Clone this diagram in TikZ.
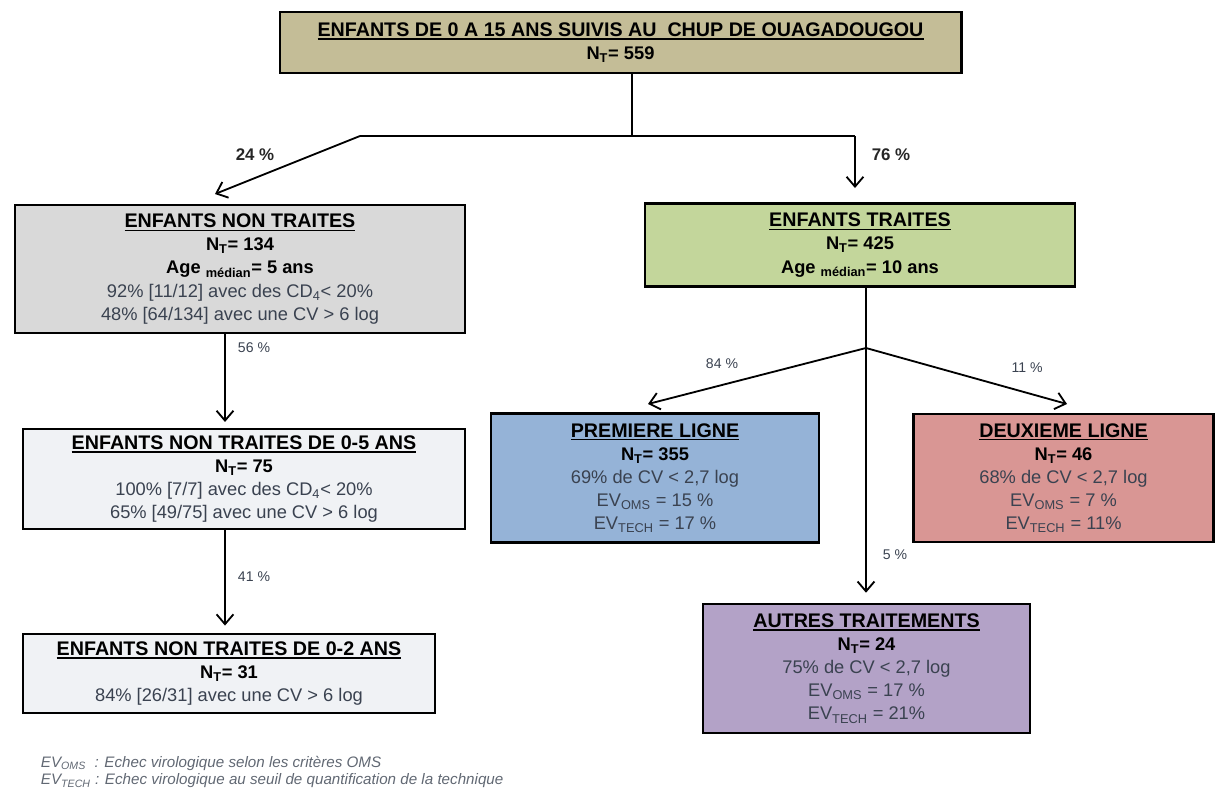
\documentclass[tikz,border=0pt]{standalone}
\usepackage{fontspec}
\setmainfont{Liberation Sans}
\usetikzlibrary{arrows.meta}

\definecolor{txtgris}{RGB}{58,66,80}
\definecolor{fondtan}{RGB}{196,189,151}
\definecolor{fondgris}{RGB}{217,217,217}
\definecolor{fondclair}{RGB}{240,242,245}
\definecolor{fondvert}{RGB}{195,214,155}
\definecolor{fondbleu}{RGB}{149,179,215}
\definecolor{fondrouge}{RGB}{217,150,148}
\definecolor{fondviolet}{RGB}{179,162,199}

\newcommand{\titre}[1]{{\color{black}\bfseries\fontsize{14}{16.4}\selectfont
  \setbox0=\hbox{#1}\rlap{\rule[-2.3pt]{\wd0}{1.1pt}}\box0}}
\newcommand{\ntot}[1]{{\color{black}\bfseries N\textsubscript{T}= #1}}
\newcommand{\agemed}[1]{{\color{black}\bfseries Age \textsubscript{médian}= #1 ans}}

\tikzset{
  boite/.style={draw=black, line width=2pt, align=center, inner sep=0pt,
    text=txtgris, font=\fontsize{13}{16.4}\selectfont},
  lien/.style={line width=1.3pt, -{Straight Barb[length=7pt,width=12pt]}},
  trait/.style={line width=1.3pt},
  pctfort/.style={font=\bfseries\fontsize{12}{14}\selectfont, text=black!85},
  pct/.style={font=\fontsize{10}{12}\selectfont, text=txtgris},
  legende/.style={anchor=west, font=\itshape\fontsize{10.8}{12}\selectfont, text=txtgris!80},
}

\begin{document}
\begin{tikzpicture}[x=0.025cm,y=-0.025cm]
\useasboundingbox (0,0) rectangle (1216,791);

% boites
\node[boite, fill=fondtan, minimum width=17.025cm, minimum height=1.525cm] (racine) at (620.5,42.5)
  {\titre{ENFANTS DE 0 A 15 ANS SUIVIS AU \ CHUP DE OUAGADOUGOU}\\ \ntot{559}};

\node[boite, fill=fondgris, minimum width=11.25cm, minimum height=3.2cm] (nontraites) at (240,269)
  {\titre{ENFANTS NON TRAITES}\\ \ntot{134}\\ \agemed{5}\\
   92\% [11/12] avec des CD\textsubscript{4}< 20\%\\ 48\% [64/134] avec une CV > 6 log};

\node[boite, fill=fondvert, minimum width=10.75cm, minimum height=2.075cm] (traites) at (860,245)
  {\titre{ENFANTS TRAITES}\\ \ntot{425}\\ \agemed{10}};

\node[boite, fill=fondclair, minimum width=11.05cm, minimum height=2.5cm] (nt05) at (244,479)
  {\titre{ENFANTS NON TRAITES DE 0-5 ANS}\\ \ntot{75}\\
   100\% [7/7] avec des CD\textsubscript{4}< 20\%\\ 65\% [49/75] avec une CV > 6 log};

\node[boite, fill=fondclair, minimum width=10.3cm, minimum height=1.975cm] (nt02) at (229,673.5)
  {\titre{ENFANTS NON TRAITES DE 0-2 ANS}\\ \ntot{31}\\ 84\% [26/31] avec une CV > 6 log};

\node[boite, fill=fondbleu, minimum width=8.2cm, minimum height=3.225cm] (premiere) at (655,478)
  {\titre{PREMIERE LIGNE}\\ \ntot{355}\\ 69\% de CV < 2,7 log\\
   EV\textsubscript{OMS} = 15 \%\\ EV\textsubscript{TECH} = 17 \%};

\node[boite, fill=fondrouge, minimum width=7.5cm, minimum height=3.2cm] (deuxieme) at (1063.5,478)
  {\titre{DEUXIEME LIGNE}\\ \ntot{46}\\ 68\% de CV < 2,7 log\\
   EV\textsubscript{OMS} = 7 \%\\ EV\textsubscript{TECH} = 11\%};

\node[boite, fill=fondviolet, minimum width=8.175cm, minimum height=3.225cm] (autres) at (866.5,668.5)
  {\titre{AUTRES TRAITEMENTS}\\ \ntot{24}\\ 75\% de CV < 2,7 log\\
   EV\textsubscript{OMS} = 17 \%\\ EV\textsubscript{TECH} = 21\%};

% embranchements
\coordinate (split) at (632,136);
\coordinate (coudeG) at (360,136);
\coordinate (coudeD) at (855,136);
\coordinate (pointeG) at (215,194);
\coordinate (split2) at (866,348);
\coordinate (pointeP) at (648,404);
\coordinate (pointeD) at (1067,404);
\coordinate (axeG) at (225,0);

\draw[trait] (racine.south -| split) -- (split);
\draw[trait] (coudeG) -- (coudeD);
\draw[lien] (coudeG) -- (pointeG);
\draw[lien] (coudeD) -- ([yshift=10pt]traites.north -| coudeD);
\node[pctfort] (p24) at (255,155) {24 \%};
\node[pctfort] (p76) at (891,155) {76 \%};

\draw[lien] (nontraites.south -| axeG) -- ([yshift=4pt]nt05.north -| axeG);
\draw[lien] (nt05.south -| axeG) -- ([yshift=5pt]nt02.north -| axeG);
\node[pct] (p56) at (254,348) {56 \%};
\node[pct] (p41) at (254,577) {41 \%};

\draw[trait] (traites.south -| split2) -- (split2);
\draw[lien] (split2) -- (pointeP);
\draw[lien] (split2) -- (pointeD);
\draw[lien] (split2) -- ([yshift=7pt]autres.north -| split2);
\node[pct] (p84) at (722,364) {84 \%};
\node[pct] (p11) at (1027,368) {11 \%};
\node[pct] (p5) at (895,555) {5 \%};

% legende
\node[legende] (leg1) at (36,763)
  {EV\textsubscript{OMS} \ : Echec virologique selon les critères OMS};
\node[legende] (leg2) at (36,781)
  {EV\textsubscript{TECH} : Echec virologique au seuil de quantification de la technique};
\end{tikzpicture}
\end{document}
